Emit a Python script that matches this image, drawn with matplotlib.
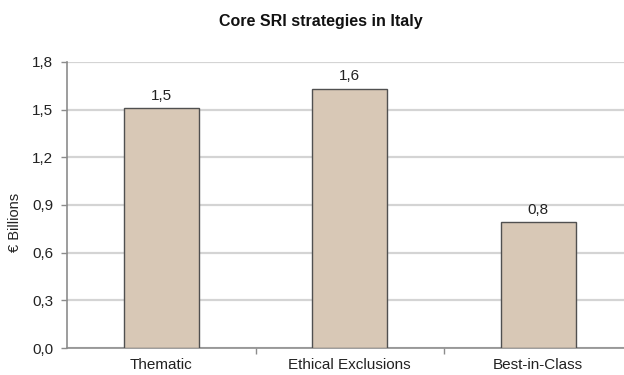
import matplotlib
matplotlib.use('Agg')
import matplotlib.pyplot as plt
from matplotlib.ticker import FuncFormatter, FixedLocator

plt.rcParams['font.family'] = ['Liberation Sans', 'DejaVu Sans']

# SRI strategies, assets in € billions
strategies = ["Thematic", "Ethical Exclusions", "Best-in-Class"]
assets_bn = [1.51, 1.63, 0.79]
y_ticks = [0.0, 0.3, 0.6, 0.9, 1.2, 1.5, 1.8]

bar_color = '#d8c8b6'
edge_color = '#505050'
axis_color = '#8c8c8c'
grid_color = '#d4d4d4'
text_color = '#222222'


def comma_dec(v):
    return f"{v:.1f}".replace('.', ',')


fig = plt.figure(figsize=(6.24, 3.75), dpi=100)
# plot area runs a little past the right edge of the canvas
ax = fig.add_axes([0.1075, 0.072, 0.906, 0.7627])

x = list(range(len(strategies)))
ax.bar(x, assets_bn, width=0.4, color=bar_color, edgecolor=edge_color,
       linewidth=1.0, zorder=3)

for xi, v in zip(x, assets_bn):
    ax.annotate(comma_dec(v), (xi, v), xytext=(0, 4),
                textcoords='offset points', ha='center', va='bottom',
                fontsize=11, color=text_color)

ax.set_xlim(-0.5, len(strategies) - 0.5)
ax.set_ylim(0, 1.8)
ax.set_yticks(y_ticks)
ax.yaxis.set_major_formatter(FuncFormatter(lambda v, p: comma_dec(v)))
ax.yaxis.grid(True, color=grid_color, linewidth=1.6, zorder=0)
ax.set_axisbelow(True)

# category labels centred, tick marks on the category boundaries
ax.set_xticks(x)
ax.set_xticklabels(strategies, fontsize=11, color=text_color)
ax.tick_params(axis='x', length=0, pad=7.5)
ax.xaxis.set_minor_locator(FixedLocator([i + 0.5 for i in range(len(strategies))]))
ax.tick_params(axis='x', which='minor', length=4, color=axis_color, width=1)
ax.tick_params(axis='y', length=4, color=axis_color, width=1, labelsize=11,
               labelcolor=text_color, pad=6)

for side in ['top', 'right']:
    ax.spines[side].set_visible(False)
for side in ['left', 'bottom']:
    ax.spines[side].set_color(axis_color)
    ax.spines[side].set_linewidth(1.2)

fig.text(15 / 624, 1 - 222 / 375, "€ Billions", rotation=90, ha='center',
         va='center', fontsize=10.5, color=text_color)
fig.text(0.514, 0.943, "Core SRI strategies in Italy", ha='center', va='center',
         fontsize=11.5, fontweight='bold', color='#111111')

fig.savefig('out.png', dpi=100)
